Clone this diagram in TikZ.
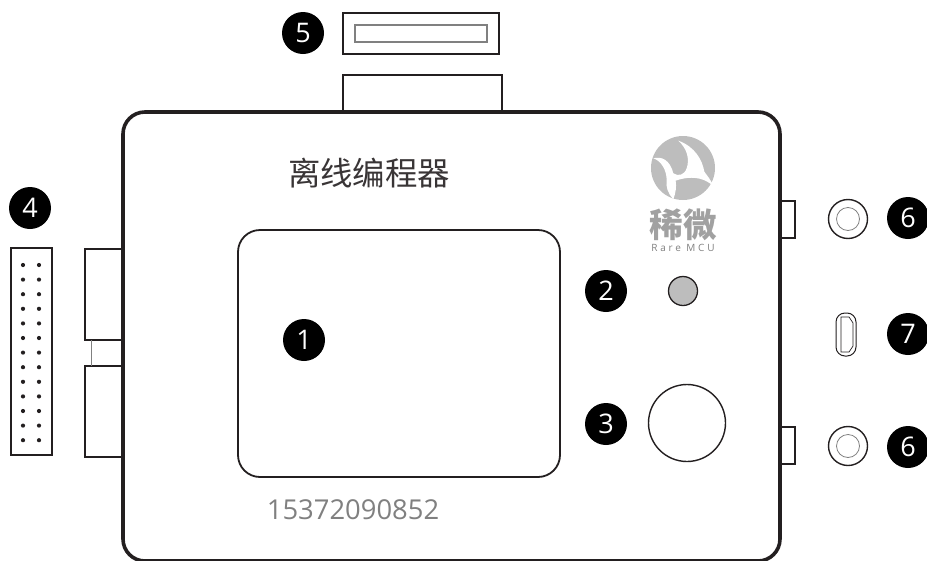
\documentclass[tikz,border=0pt]{standalone}
\usepackage{fontspec}
\setmainfont{Open Sans}
\newfontfamily\cjk{Noto Sans CJK SC}
\definecolor{inkline}{HTML}{231F20}
\definecolor{logogray}{HTML}{BDBDBD}
\tikzset{
	badge/.style={circle,fill=black,text=white,minimum size=42pt,inner sep=0pt,font=\fontsize{27}{27}\selectfont},
	part/.style={draw=inkline,line width=1.6pt,fill=white},
	thinpart/.style={draw=inkline,line width=1pt},
}
\begin{document}
\begin{tikzpicture}[x=1pt,y=-1pt]
	\useasboundingbox (0,0) rectangle (927,560);
	\clip (0,0) rectangle (927,560);
	% connectors on the outside of the case
	\draw [part] (343,75) rectangle (502,112);
	\draw [part] (85,249) rectangle (123,340);
	\draw [part] (85,366) rectangle (123,457);
	\draw [gray,line width=1pt] (91,340) -- (91,366);
	\draw [part] (780,201) rectangle (795,238);
	\draw [part] (780,427) rectangle (795,464);
	% case
	\draw [draw=inkline,line width=3.6pt,rounded corners=22pt] (123,112) rectangle (780,561);
	\draw [draw=inkline,line width=1.8pt,rounded corners=22pt] (238,230) rectangle (560,477);
	\node [text=inkline!90] (title) at (369,173) {\cjk\fontsize{32.4}{33}\selectfont 离线编程器};
	\node [text=gray] (phone) at (353,510) {\fontsize{27.4}{28}\selectfont 15372090852};
	% logo
	\fill [logogray] (683,168) circle[radius=32];
	\fill [white,shift={(645,130)},scale=0.3333] (100,32) .. controls (150,50) and (172,90) .. (178,125)
		.. controls (185,135) and (198,150) .. (205,168)
		.. controls (185,150) and (150,132) .. (92,152)
		.. controls (95,170) and (92,190) .. (85,207)
		.. controls (68,190) and (62,170) .. (65,150)
		.. controls (65,120) and (48,92) .. (25,85)
		.. controls (50,78) and (75,90) .. (85,130)
		.. controls (100,140) and (118,135) .. (125,115)
		.. controls (135,85) and (125,55) .. (100,32) -- cycle;
	\node [text=logogray!85!black] (logoname) at (683,225) {\cjk\bfseries\fontsize{33.5}{34}\selectfont 稀微};
	\node [text=gray] (logotext) at (683,248) {\fontsize{10}{10}\selectfont\addfontfeature{LetterSpace=28}Rare MCU};
	% status led and knob
	\draw [fill=logogray,draw=inkline,line width=1.3pt] (683,291) circle[radius=14.5];
	\draw [draw=inkline,line width=1.4pt] (687,423) circle[radius=38.5];
	% programming header
	\draw [part] (11,248) rectangle (52,455);
	\foreach \row in {0,...,12} {
		\fill [inkline] (23,265+14.6*\row) circle[radius=2.1];
		\fill [inkline] (39,265+14.6*\row) circle[radius=2.1];
	}
	% card slot
	\draw [part] (343,13) rectangle (499,54);
	\draw [gray,line width=1.4pt] (355,25) rectangle (487,42);
	% jacks
	\foreach \y/\name in {219/jacka,446/jackb} {
		\coordinate (\name) at (848,\y);
		\draw [thinpart,line width=1.4pt] (\name) circle[radius=19.5];
		\draw [gray,line width=.8pt] (\name) circle[radius=11.5];
	}
	% usb socket
	\draw [thinpart,rounded corners=9pt] (836,313) rectangle (856,356);
	\draw [thinpart,line width=.7pt] (841,317) -- (849,317) -- (853,323) -- (853,346) -- (849,352) -- (841,352) -- cycle;
	% number badges
	\node [badge] (n5) at (303,33) {5};
	\node [badge] (n4) at (30,208) {4};
	\node [badge] (n1) at (304,340) {1};
	\node [badge] (n2) at (606,291) {2};
	\node [badge] (n3) at (606,424) {3};
	\node [badge] (n6a) at (908,218) {6};
	\node [badge] (n7) at (908,334) {7};
	\node [badge] (n6b) at (908,447) {6};
\end{tikzpicture}
\end{document}
